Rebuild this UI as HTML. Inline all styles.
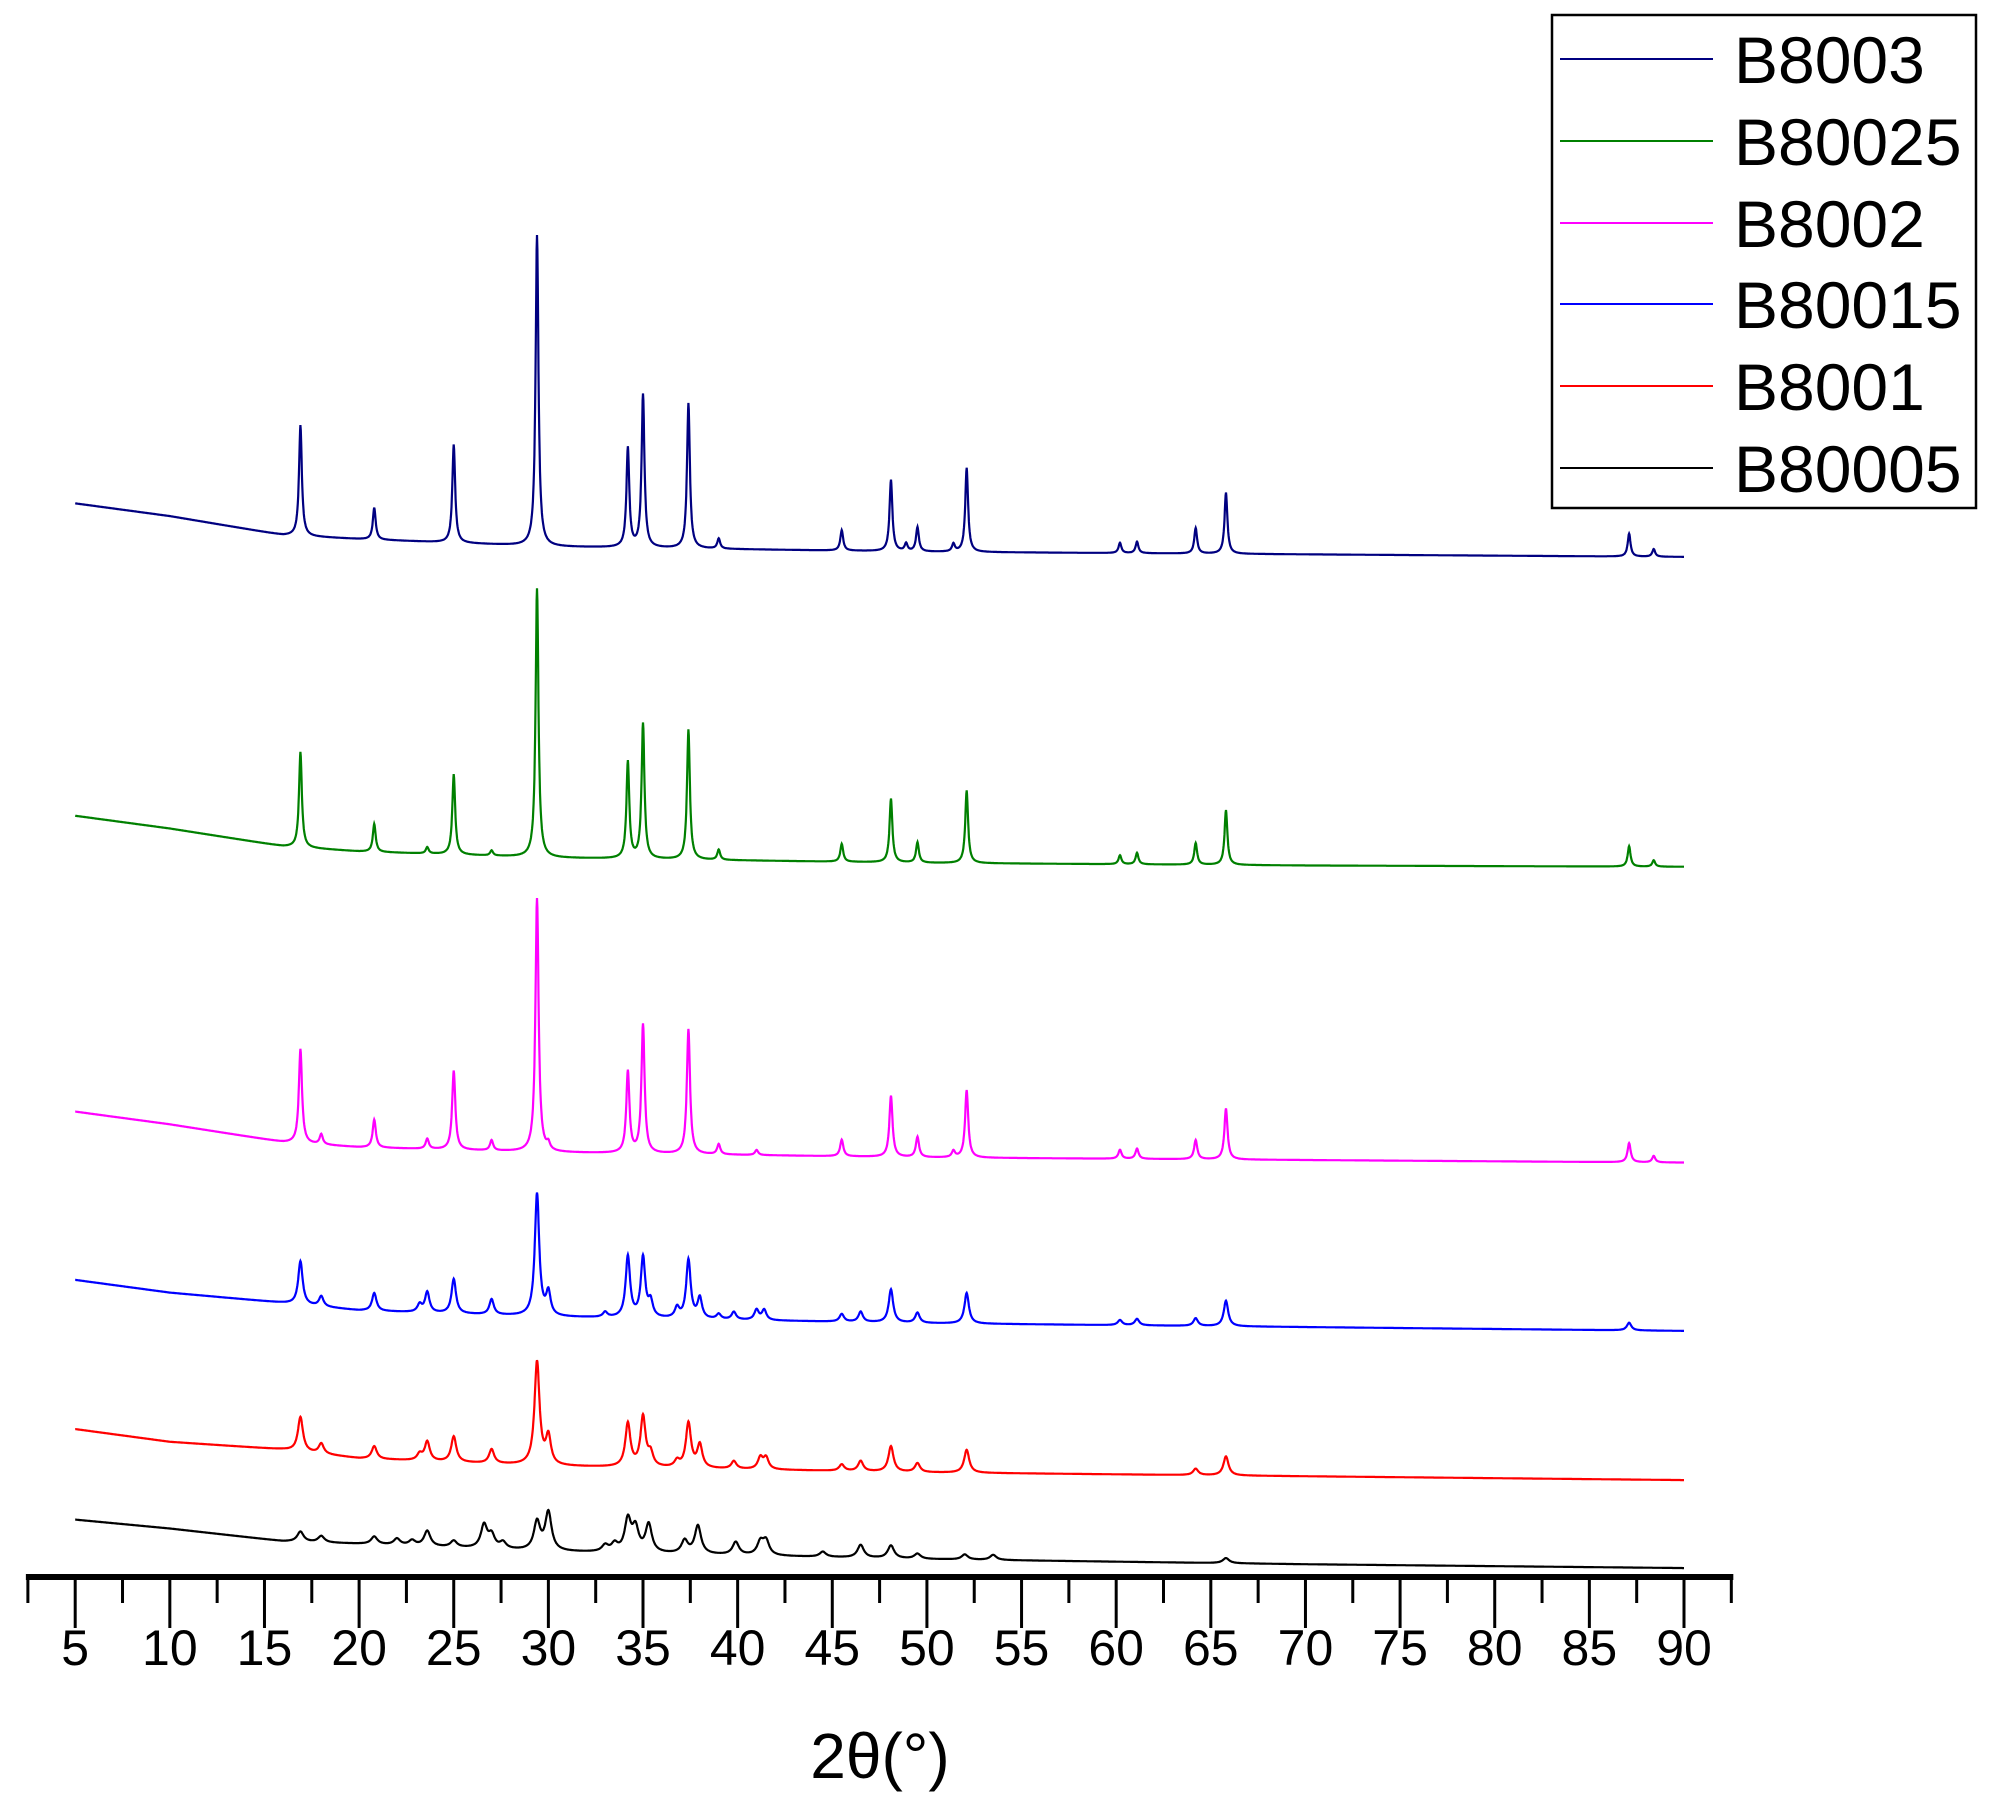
<!DOCTYPE html>
<html><head><meta charset="utf-8"><style>
html,body{margin:0;padding:0;background:#fff;}
svg{display:block;font-family:"Liberation Sans",Arial,sans-serif;}
</style></head><body>
<svg id="chart" width="1993" height="1800" viewBox="0 0 1993 1800" xmlns="http://www.w3.org/2000/svg">
<g id="series"></g>
<g id="axis"></g>
<text x="880" y="1778" font-size="64" text-anchor="middle">2θ(°)</text>
<g>
<rect x="1552" y="15" width="424" height="493" fill="none" stroke="#000" stroke-width="2.5"/>
<g id="legend-items"></g>
</g>
</svg>
<script>
const names=["B8003","B80025","B8002","B80015","B8001","B80005"];
const colors=["#000080","#008000","#ff00ff","#0000ff","#ff0000","#000000"];
const bgX=[5,10,16,20,30,50,70,90];
const bgB8003=[842,832,817,814,808,804,802,800];
const bgB80025=[597,587,573,569,564,560,558,557];
const bgB8002=[365,355,341,337,333,329,327,325];
const bgB80015=[233,223,215,209,204,199,196,193];
const bgB8001=[116,106,100,93,87,82,79,76];
const bgB80005=[45,38,28,26,20,14,10,7];
const pkPos=[
[16.9,20.8,25,29.4,34.2,35,37.4,39,45.5,48.1,48.9,49.5,51.4,52.1,60.2,61.1,64.2,65.8,87.1,88.4],
[16.9,20.8,23.6,25,27,29.4,34.2,35,37.4,39,45.5,48.1,49.5,52.1,60.2,61.1,64.2,65.8,87.1,88.4],
[16.9,18,20.8,23.6,25,27,29.4,30,34.2,35,37.4,39,41,45.5,48.1,49.5,51.4,52.1,60.2,61.1,64.2,65.8,87.1,88.4],
[16.9,18,20.8,23.2,23.6,25,27,29.4,30,33,34.2,35,35.4,36.8,37.4,38,39,39.8,41,41.4,45.5,46.5,48.1,49.5,52.1,60.2,61.1,64.2,65.8,87.1],
[16.9,18,20.8,23.2,23.6,25,27,29.4,30,34.2,35,35.4,36.8,37.4,38,39.8,41.2,41.5,45.5,46.5,48.1,49.5,52.1,64.2,65.8],
[16.9,18,20.8,22,22.8,23.6,25,26.6,27,27.6,29.4,30,33,33.5,34.2,34.6,35.3,37.2,37.9,39.9,41.2,41.5,44.5,46.5,48.1,49.5,52,53.5,65.8]];
const pkHt=[
[87,25,77,244,78,120,114,8,16,56,6,19,6,66,8,9,20,48,18,6],
[75,22,5,63,4,211,76,106,102,8,14,50,16,57,7,9,17,43,16,5],
[74,8,22,8,62,8,199,5,64,101,98,8,4,13,48,16,5,53,7,8,15,40,15,5],
[34,8,14,6,16,27,12,96,18,4,48,47,12,8,46,16,4,6,8,8,6,8,26,8,24,4,5,6,20,6],
[27,8,10,5,15,20,11,81,22,34,39,10,5,35,18,6,9,9,5,8,20,7,18,5,15],
[8,5,6,5,4,12,5,18,10,5,22,30,5,6,25,18,22,10,22,10,10,11,4,10,10,4,4,4,4]];
const pkW=[0.09,0.09,0.1,0.14,0.16,0.2];
const ticks=[5,10,15,20,25,30,35,40,45,50,55,60,65,70,75,80,85,90];
const xS=v=>75.2+(v-5)*(1684-75.2)/85;
const yS=v=>1577-v*1.2751;
const AXY=1577;
const NS="http://www.w3.org/2000/svg";
const bgs=[bgB8003,bgB80025,bgB8002,bgB80015,bgB8001,bgB80005];
function interp(xs,ys,x){for(let i=0;i<xs.length-1;i++){if(x<=xs[i+1]){const t=(x-xs[i])/(xs[i+1]-xs[i]);return ys[i]+t*(ys[i+1]-ys[i]);}}return ys[ys.length-1];}
const sg=document.getElementById('series');
for(let s=0;s<6;s++){
 let d="";
 for(let x=5;x<=90.0001;x+=0.02){
  let v=interp(bgX,bgs[s],x);
  for(let k=0;k<pkPos[s].length;k++){const z=(x-pkPos[s][k])/pkW[s];v+=pkHt[s][k]/(1+z*z);}
  d+=(d?"L":"M")+xS(x).toFixed(1)+","+yS(v).toFixed(1);
 }
 const p=document.createElementNS(NS,'path');
 
 
 p.setAttribute('d',d);p.setAttribute('fill','none');p.setAttribute('stroke',colors[s]);p.setAttribute('stroke-width','2.2');
 sg.appendChild(p);
}
const ax=document.getElementById('axis');
const line=document.createElementNS(NS,'line');


line.setAttribute('x1',xS(2.5)-2);line.setAttribute('x2',xS(92.5)+2);line.setAttribute('y1',AXY);line.setAttribute('y2',AXY);
line.setAttribute('stroke','#000');line.setAttribute('stroke-width','6');ax.appendChild(line);
for(let t=2.5;t<=92.51;t+=2.5){
 const major=Math.abs((t/5)-Math.round(t/5))<1e-6;
 const l=document.createElementNS(NS,'line');
 
 
 l.setAttribute('x1',xS(t));l.setAttribute('x2',xS(t));l.setAttribute('y1',AXY);l.setAttribute('y2',major?1628:1603);
 l.setAttribute('stroke','#000');l.setAttribute('stroke-width','3');ax.appendChild(l);
}
ticks.forEach(t=>{
 const tx=document.createElementNS(NS,'text');
 
 
 tx.setAttribute('x',xS(t));tx.setAttribute('y',1665);tx.setAttribute('font-size','50');tx.setAttribute('text-anchor','middle');
 tx.textContent=t;ax.appendChild(tx);
});
const lg=document.getElementById('legend-items');
const ly=[59,141,223,304,386,468];
names.forEach((n,i)=>{
 const g=document.createElementNS(NS,'g');
 
 
 const l=document.createElementNS(NS,'line');
 
 
 l.setAttribute('x1',1560);l.setAttribute('x2',1713);l.setAttribute('y1',ly[i]);l.setAttribute('y2',ly[i]);
 l.setAttribute('stroke',colors[i]);l.setAttribute('stroke-width','2');g.appendChild(l);
 const t=document.createElementNS(NS,'text');
 
 
 t.setAttribute('x',1734);t.setAttribute('y',ly[i]+24);t.setAttribute('font-size','66');
 t.textContent=n;g.appendChild(t);
 lg.appendChild(g);
});
</script>
</body></html>
